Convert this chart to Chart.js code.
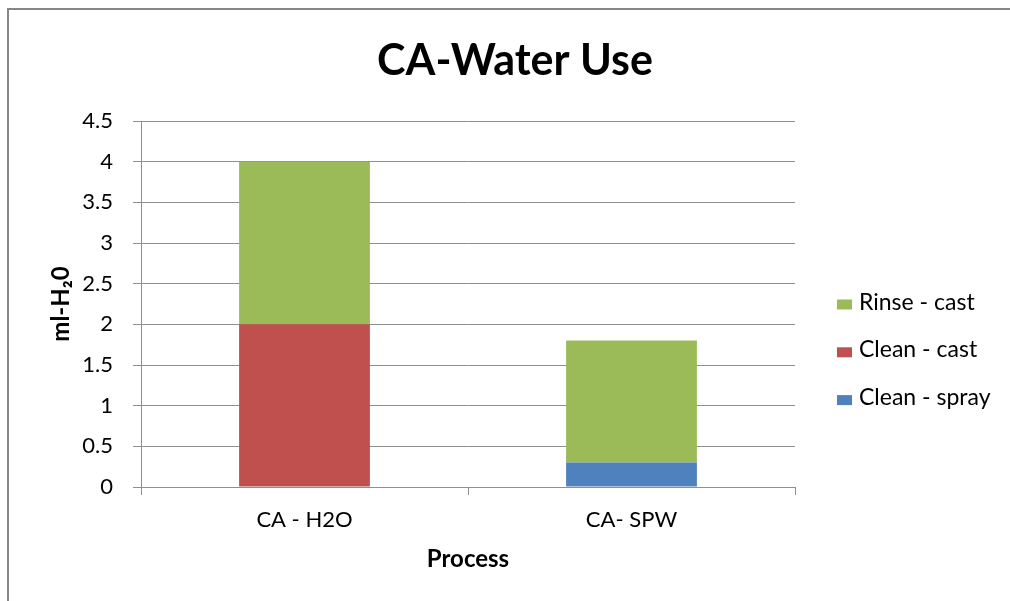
<!DOCTYPE html>
<html>
<head>
<meta charset="utf-8">
<script src="https://cdn.jsdelivr.net/npm/chart.js@4/dist/chart.umd.min.js"></script>
<style>
  body { margin: 0; background: #fff; }
  #frame {
    position: absolute; left: 7px; top: 8px; width: 1100px; height: 700px;
    border-left: 2px solid #868686; border-top: 2px solid #868686;
  }
  canvas { position: absolute; left: 0; top: 0; }
</style>
</head>
<body>
<div id="frame"></div>
<canvas id="graphic" width="1010" height="601"></canvas>
<script>
// datos
const procesos = ["CA - H2O", "CA- SPW"];
const cleanSpray = [0, 0.3];
const cleanCast = [2, 0];
const rinseCast = [2, 1.5];
const yTicks = [0, 0.5, 1, 1.5, 2, 2.5, 3, 3.5, 4, 4.5];

const FUENTE = "Lato";
const GRIS = "#8f8f8f";

// leyenda a la derecha, orden inverso (como Excel)
const leyenda = {
    id: "leyenda",
    afterDraw(chart) {
        const ctx = chart.ctx;
        const sets = chart.data.datasets.slice().reverse();
        ctx.save();
        ctx.font = "23px " + FUENTE;
        ctx.textBaseline = "alphabetic";
        ctx.textAlign = "left";
        sets.forEach((ds, i) => {
            const base = 309.5 + i * 47.8;
            ctx.fillStyle = ds.backgroundColor;
            ctx.fillRect(837, base - 10, 15, 10);
            ctx.fillStyle = "#000";
            ctx.fillText(ds.label, 859, base);
        });
        ctx.restore();
    }
};

const ctx = document.getElementById("graphic").getContext("2d");

new Chart(ctx, {
    type: "bar",
    data: {
        labels: procesos,
        datasets: [
            { label: "Clean - spray", data: cleanSpray, backgroundColor: "#4F81BD" },
            { label: "Clean - cast", data: cleanCast, backgroundColor: "#C0504D" },
            { label: "Rinse - cast", data: rinseCast, backgroundColor: "#9BBB59" }
        ]
    },
    options: {
        responsive: false,
        animation: false,
        barPercentage: 0.4,
        categoryPercentage: 1,
        layout: { padding: { top: 0, right: 0, bottom: 0, left: 20 } },
        plugins: {
            legend: { display: false },
            tooltip: { enabled: false },
            title: {
                display: true,
                text: "CA-Water Use",
                color: "#000",
                font: { family: FUENTE, size: 43, weight: "bold" },
                padding: { top: 35, bottom: 34.4 }
            }
        },
        scales: {
            x: {
                stacked: true,
                afterFit: (s) => { s.height = 114; },
                grid: { drawOnChartArea: false, color: GRIS, tickLength: 8, offset: true },
                border: { color: GRIS },
                ticks: { color: "#000", padding: 12, font: { family: FUENTE, size: 22 } },
                title: {
                    display: true,
                    text: "Process",
                    color: "#000",
                    font: { family: FUENTE, size: 24, weight: "bold" },
                    padding: { top: 0, bottom: 27 }
                }
            },
            y: {
                stacked: true,
                min: 0,
                max: 4.5,
                afterFit: (s) => { s.width = 121; },
                afterBuildTicks: (s) => { s.ticks = yTicks.map(v => ({ value: v })); },
                grid: { color: GRIS, tickLength: 8 },
                border: { color: GRIS },
                ticks: {
                    color: "#000",
                    padding: 20,
                    font: { family: FUENTE, size: 22 },
                    callback: (v) => String(v)
                },
                title: {
                    display: true,
                    text: "ml-H\u20820",
                    color: "#000",
                    font: { family: FUENTE, size: 24, weight: "bold" },
                    padding: { top: 27, bottom: 0 }
                }
            },
            // hueco para la leyenda
            hueco: {
                axis: "y",
                position: "right",
                grid: { display: false },
                border: { display: false },
                ticks: { display: false },
                afterFit: (s) => { s.width = 215; }
            }
        }
    },
    plugins: [leyenda]
});
</script>
</body>
</html>
